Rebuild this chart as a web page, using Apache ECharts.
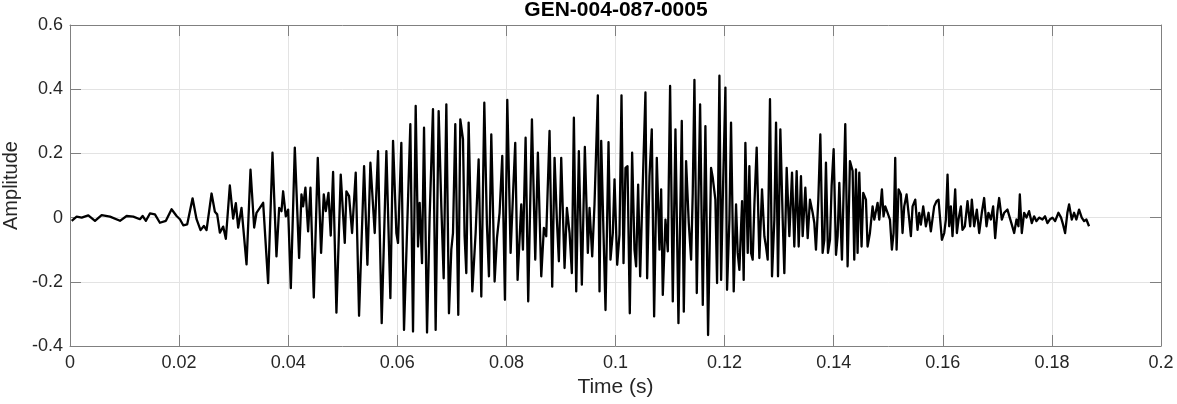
<!DOCTYPE html>
<html>
<head>
<meta charset="utf-8">
<script src="https://cdn.jsdelivr.net/npm/echarts@6/dist/echarts.min.js"></script>
<style>
html,body{margin:0;padding:0;background:#fff;}
#chart{width:1177px;height:404px;}
</style>
</head>
<body>
<div id="chart"></div>
<script>
// Waveform vertices (time in ms, amplitude)
const timeMs = [
0.31,1.22,2.14,3.36,4.58,5.80,7.33,9.16,10.38,11.60,12.82,13.31,13.92,14.65,15.57,16.48,17.58,18.62,19.54,20.15,20.76,21.49,22.47,23.20,23.93,24.54,25.03,25.95,26.56,26.98,27.47,28.08,28.57,29.30,29.91,30.40,30.83,31.44,32.36,33.09,33.76,
34.19,34.80,35.41,35.71,36.32,37.12,37.85,38.34,38.77,39.07,39.56,39.99,40.48,41.21,42.00,42.43,42.73,43.16,43.65,44.08,44.69,45.42,46.03,46.52,46.89,47.38,47.80,48.23,48.84,49.63,50.37,50.67,51.16,51.71,52.38,52.99,53.91,54.52,55.07,55.86,56.47,57.14,58.00,58.73,59.22,59.83,60.13,60.74,61.23,
62.39,62.88,63.37,63.80,64.10,64.53,64.90,65.45,65.93,66.54,67.03,67.58,68.07,68.50,68.99,69.47,69.90,70.21,70.63,71.18,71.55,72.04,72.34,72.65,73.08,73.75,74.36,74.91,75.40,75.95,76.43,76.80,77.23,77.84,78.27,78.75,79.24,79.73,80.16,80.77,81.20,81.62,82.05,82.72,83.03,83.52,84.00,84.68,85.29,85.77,86.39,86.87,87.30,87.91,88.40,
88.83,89.25,89.62,90.05,90.66,91.09,91.58,92.00,92.37,92.80,93.28,93.83,94.38,94.93,95.24,95.73,96.15,96.76,97.07,97.38,97.80,98.17,98.72,99.08,99.51,99.82,100.31,100.73,101.10,101.47,101.83,102.20,102.62,103.05,103.48,103.78,104.15,104.52,104.88,105.49,105.80,106.23,106.65,107.08,107.57,108.06,108.37,108.67,109.16,109.59,110.01,110.50,110.99,111.54,112.15,112.52,112.94,113.43,113.86,114.16,114.47,114.90,115.51,116.00,116.48,116.97,
117.52,117.83,118.31,118.62,119.05,119.36,119.66,120.15,120.45,120.88,121.18,121.67,122.10,122.40,122.71,123.20,123.50,123.81,124.24,124.54,124.85,125.15,125.46,125.88,126.37,126.86,127.29,127.59,127.90,128.32,128.69,129.12,129.43,129.79,130.22,130.65,130.95,131.38,131.87,132.36,132.78,133.21,133.58,134.00,134.31,134.80,135.23,135.65,136.14,136.45,136.75,137.18,137.55,137.97,138.28,138.58,138.95,139.32,139.62,139.99,140.42,140.72,141.03,141.51,142.12,142.55,142.98,143.47,
143.77,144.08,144.38,144.69,145.11,145.42,145.91,146.21,146.64,147.13,147.44,148.05,148.35,148.84,149.14,149.45,149.88,150.31,150.67,150.98,151.28,151.53,151.89,152.32,152.62,152.93,153.36,153.85,154.15,154.46,154.95,155.37,155.68,155.98,156.41,156.90,157.39,157.81,158.42,158.85,159.22,159.52,159.83,160.26,160.56,160.87,161.17,161.48,161.78,162.27,162.58,162.88,163.31,163.61,164.04,164.53,165.02,165.32,165.75,166.24,166.67,167.15,167.58,168.01,168.37,168.81,169.23,169.60,170.02,170.33,170.82,171.25,171.85,
172.65,173.08,173.51,173.87,174.12,174.48,174.91,175.34,175.82,176.31,176.74,177.17,177.66,178.26,178.75,179.18,179.61,180.10,180.59,181.20,181.68,182.05,182.42,182.84,183.15,183.64,184.07,184.49,184.98,185.47,185.90,186.32,186.81
];
const amplitude = [
-0.010,0.003,0,0.007,-0.010,0.008,0.003,-0.010,0.005,0.003,-0.005,0.005,-0.010,0.013,0.010,-0.016,-0.010,0.026,0.005,-0.005,-0.024,-0.021,0.060,-0.005,-0.039,-0.026,-0.039,0.075,0.018,0.010,-0.047,-0.028,-0.066,0.100,-0.003,0.045,-0.031,0.030,-0.146,0.149,-0.031,
0.015,0.030,0.046,0.041,-0.204,0.202,-0.121,0.030,0.020,0.082,0.004,0.025,-0.220,0.218,-0.126,0.072,0.035,0.093,-0.043,0.093,-0.249,0.186,-0.110,0.072,0.020,0.077,-0.056,0.142,-0.296,0.134,-0.079,0.082,0.067,-0.048,0.140,-0.306,0.160,-0.147,0.171,-0.048,0.207,-0.329,0.207,-0.251,0.239,-0.048,-0.079,0.233,-0.350,
0.291,-0.355,0.348,-0.090,0.046,-0.142,0.280,-0.358,0.004,0.338,-0.350,0.332,0.035,-0.189,0.353,-0.298,-0.100,-0.048,0.291,-0.303,0.306,0.244,-0.058,-0.173,0.296,-0.230,-0.048,0.181,-0.246,0.358,-0.022,-0.183,0.259,-0.199,-0.064,0.015,0.192,-0.256,0.367,-0.110,0.067,0.233,-0.194,0.041,-0.100,0.249,-0.261,0.306,-0.131,0.202,-0.183,-0.032,-0.058,0.270,-0.215,
0.186,-0.006,-0.136,0.186,-0.157,0.030,-0.048,-0.173,0.311,-0.230,0.207,-0.209,0.220,-0.110,0.030,-0.121,0.041,0.381,-0.230,0.239,-0.048,-0.288,0.235,-0.131,-0.048,0.119,-0.147,-0.053,0.381,-0.142,0.155,0.160,-0.298,0.202,-0.100,-0.152,0.103,-0.183,0.035,0.390,-0.189,0.129,0.275,-0.308,0.186,-0.100,0.088,-0.241,-0.006,-0.105,0.410,-0.261,0.275,-0.329,0.301,-0.293,0.176,-0.017,-0.131,0.077,0.429,-0.235,0.353,-0.272,0.285,-0.366,
0.155,0.124,0.056,-0.204,0.442,-0.194,0.056,0.405,-0.225,-0.006,0.296,-0.230,0.041,-0.110,-0.163,0.051,-0.194,0.233,-0.110,0.160,-0.110,-0.131,0.041,0.218,-0.126,0.088,-0.058,-0.090,-0.131,0.369,-0.183,-0.006,0.296,-0.183,0.275,-0.006,-0.173,0.155,-0.058,0.140,-0.090,0.145,-0.090,0.129,-0.058,0.093,-0.064,0.056,0.015,-0.017,-0.100,0.056,0.259,-0.110,-0.069,0.171,-0.110,-0.069,0.098,0.213,-0.116,-0.058,0.108,-0.131,0.291,-0.152,0.176,0.145,
-0.131,0.150,-0.110,0.140,-0.090,0.077,0.056,-0.090,-0.048,0.035,-0.006,0.046,-0.006,0.088,0.004,0.035,0.015,-0.006,-0.100,-0.048,0.186,-0.100,0.088,0.072,-0.048,0.035,0.072,-0.006,-0.058,0.035,0.056,-0.038,0.015,-0.022,0.035,-0.027,0.015,-0.043,0.035,0.051,0.056,-0.006,-0.069,-0.048,-0.006,0.134,-0.027,0.035,-0.058,0.088,-0.048,-0.006,0.035,-0.038,-0.027,0.051,-0.027,0.056,-0.027,0.025,-0.048,0.015,0.061,-0.027,0.015,-0.006,0.035,-0.064,0.020,0.061,-0.006,0.015,0.025,
-0.022,-0.048,-0.006,-0.027,0.072,-0.048,0.015,0,0.020,-0.017,0.004,-0.011,0,-0.006,0.004,-0.017,-0.006,0,-0.011,0.015,0,-0.022,-0.048,0.015,0.041,-0.006,0.015,-0.006,0.025,0,-0.011,-0.006,-0.027
];
const xTickLabels = ['0','0.02','0.04','0.06','0.08','0.1','0.12','0.14','0.16','0.18','0.2'];
const yTickLabels = ['-0.4','-0.2','0','0.2','0.4','0.6'];
const titleText = 'GEN-004-087-0005';
const xLabel = 'Time (s)';
const yLabel = 'Amplitude';

const X_MIN = 0, X_MAX = 0.2, X_INT = 0.02;
const Y_MIN = -0.4, Y_MAX = 0.6, Y_INT = 0.2;

const n = Math.min(timeMs.length, amplitude.length);
const seriesData = [];
for (let i = 0; i < n; i++) seriesData.push([timeMs[i] / 1000, amplitude[i]]);

const FONT = '"Liberation Sans", Arial, Helvetica, sans-serif';
const AX = '#808080';
const TXT = '#262626';
const GRIDC = '#e3e3e3';

function fmt(labels, min, step) {
  return function (v) {
    const idx = Math.round((v - min) / step);
    return labels[idx] !== undefined ? labels[idx] : '';
  };
}

const chart = echarts.init(document.getElementById('chart'), null, {renderer: 'canvas'});
chart.setOption({
  animation: false,
  backgroundColor: '#fff',
  textStyle: {fontFamily: FONT},
  title: {
    text: titleText, left: 616, top: 0, textAlign: 'center', padding: 0,
    textStyle: {fontFamily: FONT, fontSize: 21, fontWeight: 'bold', color: '#000'}
  },
  grid: {left: 70, right: 16, top: 25, bottom: 58, containLabel: false, outerBoundsMode: 'none'},
  xAxis: [{
    type: 'value', min: X_MIN, max: X_MAX, interval: X_INT, position: 'bottom',
    name: xLabel, nameLocation: 'middle', nameGap: 31,
    nameTextStyle: {fontFamily: FONT, fontSize: 21, color: TXT},
    axisLine: {show: true, onZero: false, lineStyle: {color: AX, width: 1}},
    axisTick: {show: true, inside: true, length: 11, lineStyle: {color: AX}},
    axisLabel: {fontFamily: FONT, fontSize: 18, color: TXT, margin: 8, formatter: fmt(xTickLabels, X_MIN, X_INT)},
    splitLine: {show: true, lineStyle: {color: GRIDC, width: 1}}
  }, {
    type: 'value', min: X_MIN, max: X_MAX, interval: X_INT, position: 'top',
    axisLine: {show: true, onZero: false, lineStyle: {color: AX, width: 1}},
    axisTick: {show: true, inside: true, length: 11, lineStyle: {color: AX}},
    axisLabel: {show: false}, splitLine: {show: false}
  }],
  yAxis: [{
    type: 'value', min: Y_MIN, max: Y_MAX, interval: Y_INT, position: 'left',
    name: yLabel, nameLocation: 'middle', nameGap: 49,
    nameTextStyle: {fontFamily: FONT, fontSize: 20, color: TXT},
    axisLine: {show: true, onZero: false, lineStyle: {color: AX, width: 1}},
    axisTick: {show: true, inside: true, length: 11, lineStyle: {color: AX}},
    axisLabel: {fontFamily: FONT, fontSize: 18, color: TXT, margin: 7, formatter: fmt(yTickLabels, Y_MIN, Y_INT)},
    splitLine: {show: true, lineStyle: {color: GRIDC, width: 1}}
  }, {
    type: 'value', min: Y_MIN, max: Y_MAX, interval: Y_INT, position: 'right',
    axisLine: {show: true, onZero: false, lineStyle: {color: AX, width: 1}},
    axisTick: {show: true, inside: true, length: 11, lineStyle: {color: AX}},
    axisLabel: {show: false}, splitLine: {show: false}
  }],
  series: [{
    type: 'line', xAxisIndex: 0, yAxisIndex: 0, data: seriesData,
    showSymbol: false, symbol: 'none', smooth: false,
    lineStyle: {color: '#000', width: 2.3, join: 'round'},
    z: 5
  }]
});
</script>
</body>
</html>
